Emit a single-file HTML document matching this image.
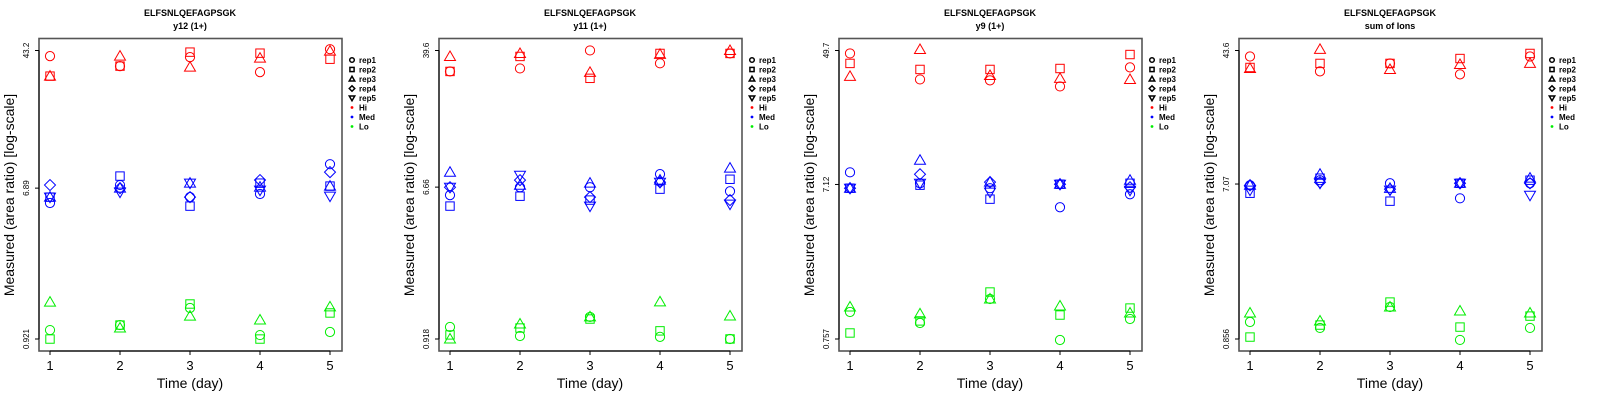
<!DOCTYPE html>
<html><head><meta charset="utf-8"><style>
body{margin:0;background:#fff;}
svg{display:block;font-family:"Liberation Sans",sans-serif;}
</style></head><body>
<svg id="chart" width="1600" height="400" viewBox="0 0 1600 400"></svg>
<script>
const days = [1,2,3,4,5];
const reps = ["rep1","rep2","rep3","rep4","rep5"];
const levels = ["Hi","Med","Lo"];
const panelTitles = ["y12 (1+)","y11 (1+)","y9 (1+)","sum of Ions"];
const peptide = "ELFSNLQEFAGPSGK";
const tickLabels1 = ["43.2","6.89","0.921"];
const tickLabels2 = ["39.6","6.66","0.918"];
const tickLabels3 = ["49.7","7.12","0.757"];
const tickLabels4 = ["43.6","7.07","0.856"];
// log10(area ratio), per level -> per rep -> per day
const p1Hi  = [[1.603,1.545,1.597,1.510,1.643],[1.487,1.545,1.626,1.620,1.585],[1.487,1.603,1.539,1.591,1.632]];
const p1Med = [[0.752,0.856,0.786,0.804,0.977],[0.786,0.908,0.734,0.867,0.850],[0.786,0.838,0.867,0.844,0.850],[0.856,0.838,0.786,0.885,0.931],[0.786,0.815,0.867,0.827,0.792]];
const p1Lo  = [[0.016,0.045,0.144,-0.013,0.005],[-0.036,0.045,0.167,-0.036,0.115],[0.178,0.028,0.097,0.074,0.150]];
const p2Hi  = [[1.479,1.496,1.598,1.525,1.581],[1.479,1.564,1.440,1.581,1.581],[1.564,1.581,1.474,1.576,1.598]];
const p2Med = [[0.778,0.823,0.823,0.897,0.800],[0.716,0.772,0.750,0.812,0.868],[0.908,0.834,0.846,0.863,0.931],[0.823,0.863,0.767,0.851,0.750],[0.823,0.891,0.716,0.851,0.727]];
const p2Lo  = [[0.031,-0.020,0.088,-0.025,-0.037],[-0.014,0.025,0.076,0.009,-0.037],[-0.037,0.048,0.088,0.173,0.093]];
const p3Hi  = [[1.678,1.514,1.508,1.470,1.590],[1.615,1.577,1.577,1.583,1.671],[1.533,1.703,1.539,1.521,1.514]];
const p3Med = [[0.929,0.860,0.829,0.709,0.791],[0.829,0.848,0.760,0.854,0.860],[0.829,1.005,0.867,0.854,0.879],[0.829,0.917,0.867,0.854,0.835],[0.829,0.860,0.804,0.854,0.816]];
const p3Lo  = [[0.049,-0.020,0.131,-0.127,0.005],[-0.083,-0.007,0.175,0.030,0.074],[0.081,0.037,0.131,0.087,0.043]];
const p4Hi  = [[1.604,1.516,1.563,1.498,1.604],[1.539,1.563,1.563,1.592,1.622],[1.533,1.646,1.527,1.557,1.563]];
const p4Med = [[0.842,0.872,0.854,0.765,0.854],[0.795,0.884,0.748,0.854,0.872],[0.842,0.907,0.824,0.854,0.884],[0.842,0.860,0.819,0.854,0.854],[0.813,0.854,0.813,0.854,0.783]];
const p4Lo  = [[0.033,-0.002,0.122,-0.073,-0.002],[-0.056,0.015,0.151,0.003,0.068],[0.086,0.039,0.122,0.098,0.086]];

const panels = [
 {ticks:tickLabels1, data:[p1Hi,p1Med,p1Lo]},
 {ticks:tickLabels2, data:[p2Hi,p2Med,p2Lo]},
 {ticks:tickLabels3, data:[p3Hi,p3Med,p3Lo]},
 {ticks:tickLabels4, data:[p4Hi,p4Med,p4Lo]}
];
const colors = {Hi:"#ff0000",Med:"#0000ff",Lo:"#00ee00"};
const NS="http://www.w3.org/2000/svg";
const svg=document.getElementById("chart");
function mk(tag,attrs,parent){const e=document.createElementNS(NS,tag);for(const k in attrs)e.setAttribute(k,attrs[k]);(parent||svg).appendChild(e);return e;}
function marker(g,shape,cx,cy,col,s,w){
  s=s||1;w=w||1;const r=4.6*s,a=5.5*s,b=4*s,q=4.2*s;
  if(shape===0) return mk("circle",{cx,cy,r,fill:"none",stroke:col,"stroke-width":w},g);
  if(shape===1) return mk("rect",{x:cx-q,y:cy-q,width:2*q,height:2*q,fill:"none",stroke:col,"stroke-width":w},g);
  if(shape===2) return mk("polygon",{points:`${cx},${cy-a} ${cx-a},${cy+b} ${cx+a},${cy+b}`,fill:"none",stroke:col,"stroke-width":w},g);
  if(shape===3) return mk("polygon",{points:`${cx},${cy-a} ${cx+a},${cy} ${cx},${cy+a} ${cx-a},${cy}`,fill:"none",stroke:col,"stroke-width":w},g);
  return mk("polygon",{points:`${cx},${cy+a} ${cx-a},${cy-b} ${cx+a},${cy-b}`,fill:"none",stroke:col,"stroke-width":w},g);
}
panels.forEach((p,pi)=>{
  const ox=pi*400;
  const g=mk("g",{});
  
  
  const lo=Math.log10(parseFloat(p.ticks[2])), hi=Math.log10(parseFloat(p.ticks[0]));
  const yS=v=>339-(v-lo)/(hi-lo)*288.5;
  const xS=d=>ox+50+(d-1)*70;
  const t1=mk("text",{x:ox+190,y:16,"font-size":9,"font-weight":"bold","text-anchor":"middle"},g);t1.textContent=peptide;
  
  const t2=mk("text",{x:ox+190,y:29,"font-size":9,"font-weight":"bold","text-anchor":"middle"},g);t2.textContent=panelTitles[pi];
  
  const box=mk("rect",{x:ox+39,y:38.5,width:303,height:312.5,fill:"none",stroke:"#555","stroke-width":1.6},g);
  
  days.forEach(d=>{
    mk("line",{x1:xS(d),x2:xS(d),y1:351,y2:355,stroke:"#000"},g);
    const tl=mk("text",{x:xS(d),y:370,"font-size":13,"text-anchor":"middle"},g);tl.textContent=d;
    
  });
  mk("line",{x1:xS(1),x2:xS(5),y1:351,y2:351,stroke:"#000"},g);
  const xt=mk("text",{x:ox+190,y:388,"font-size":14,"text-anchor":"middle"},g);xt.textContent="Time (day)";
  
  p.ticks.forEach(tv=>{
    const y=yS(Math.log10(parseFloat(tv)));
    mk("line",{x1:ox+35,x2:ox+39,y1:y,y2:y,stroke:"#000"},g);
    const tl=mk("text",{x:ox+29,y:y,"font-size":8,"text-anchor":"middle",transform:`rotate(-90 ${ox+29} ${y})`},g);tl.textContent=tv;
    
  });
  mk("line",{x1:ox+39,x2:ox+39,y1:yS(hi),y2:yS(lo),stroke:"#000"},g);
  const yt=mk("text",{x:ox+14,y:195,"font-size":14,"text-anchor":"middle",transform:`rotate(-90 ${ox+14} 195)`},g);yt.textContent="Measured (area ratio) [log-scale]";
  
  levels.forEach((lv,li)=>{
    p.data[li].forEach((arr,ri)=>{
      arr.forEach((v,di)=>{
        const m=marker(g,ri,xS(days[di]),yS(v),colors[lv]);
        
        
      });
    });
  });
  const lg=mk("g",{},g);
  
  reps.forEach((r,i)=>{
    const y=60+i*9.5;
    const e=marker(lg,i,ox+352,y,"#000",0.5,1.5);
    
    const t=mk("text",{x:ox+359,y:y+3,"font-size":8,"font-weight":"bold"},lg);t.textContent=r;
    
  });
  levels.forEach((lv,i)=>{
    const y=60+(i+5)*9.5;
    const c=mk("circle",{cx:ox+352,cy:y,r:1.4,fill:colors[lv]},lg);
    
    const t=mk("text",{x:ox+359,y:y+3,"font-size":8,"font-weight":"bold"},lg);t.textContent=lv;
    
  });
});
</script>
</body></html>
